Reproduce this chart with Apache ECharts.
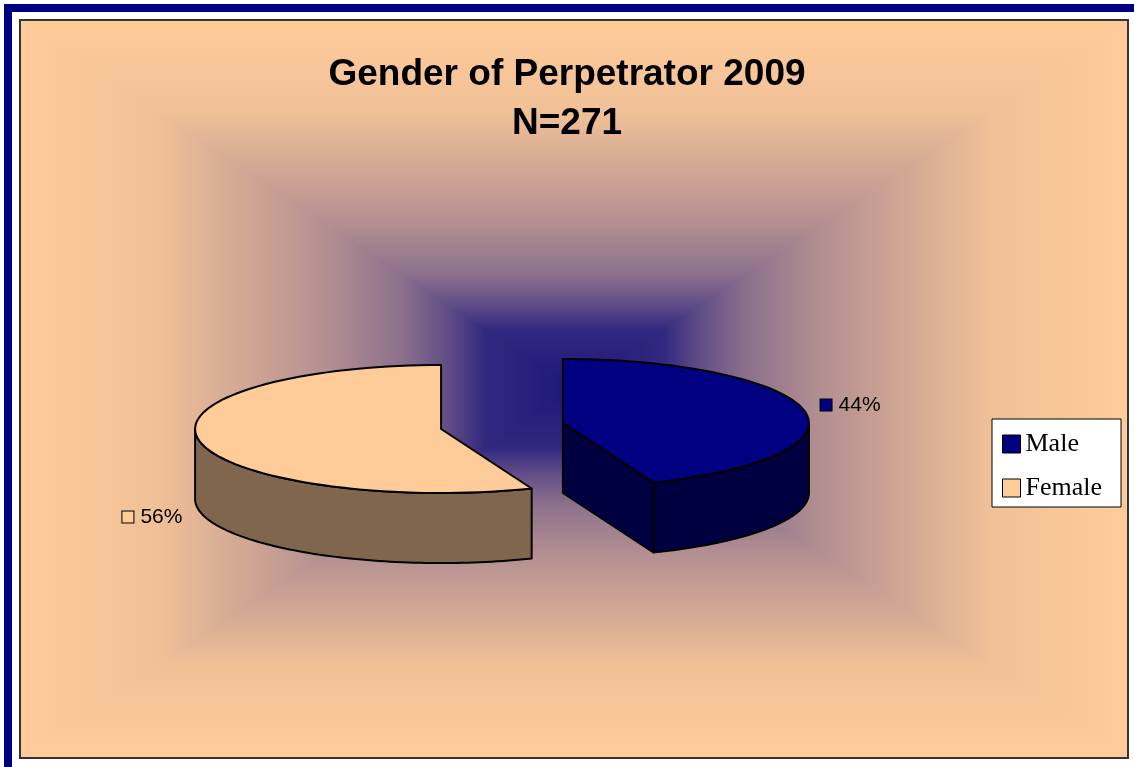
<!DOCTYPE html>
<html>
<head>
<meta charset="UTF-8">
<title>Gender of Perpetrator 2009</title>
<script src="https://cdn.jsdelivr.net/npm/echarts@6/dist/echarts.min.js"></script>
<style type="text/css">
  body { margin: 0; background: #fff; }
  #chart { width: 1134px; height: 767px; }
</style>
</head>
<body>
<div id="chart"></div>
<script type="text/javascript">
// data
var categories = ['Male', 'Female'];
var values = [44, 56];              // percent of N=271
var titleLines = ['Gender of Perpetrator 2009', 'N=271'];

// colours: top face and darker side face
var topColors = ['#000080', '#FFCC99'];
var sideColors = ['#000040', '#80664D'];

// fake 3d pie layout (pixels)
var pie = { cx: 502, cy: 426, rx: 246, ry: 64, depth: 70, explode: 62 };

// plot box with the "from centre" rectangular gradient
var box = { x0: 20, y0: 20, x1: 1128, y1: 758 };
var gradStops = [
  [0, '#FFCC99'], [0.25, 'rgb(240,192,151)'], [0.56, 'rgb(178,142,145)'],
  [0.69, 'rgb(140,112,140)'], [0.77, 'rgb(98,78,134)'], [0.84, 'rgb(50,40,128)'],
  [1, '#1c1878']
];

function stops(reverse) {
  return gradStops.map(function (s) {
    return { offset: reverse ? 1 - s[0] : s[0], color: s[1] };
  });
}

function vStops() {
  // edge -> centre -> edge
  var out = [];
  gradStops.forEach(function (s) { out.push({ offset: s[0] / 2, color: s[1] }); });
  for (var k = gradStops.length - 2; k >= 0; k--) {
    out.push({ offset: 1 - gradStops[k][0] / 2, color: gradStops[k][1] });
  }
  return out;
}

var bcx = (box.x0 + box.x1) / 2, bcy = (box.y0 + box.y1) / 2;
var background = [
  { type: 'rect', z: -10, shape: { x: 8, y: 8, width: 1300, height: 1000 },
    style: { fill: '#fff', stroke: '#000080', lineWidth: 8 } },
  { type: 'rect', z: -9, shape: { x: box.x0, y: box.y0, width: box.x1 - box.x0, height: box.y1 - box.y0 },
    style: { fill: new echarts.graphic.LinearGradient(0, 0, 0, 1, vStops()) } },
  { type: 'polygon', z: -8, shape: { points: [[box.x0, box.y0], [bcx, bcy], [box.x0, box.y1]] },
    style: { fill: new echarts.graphic.LinearGradient(0, 0, 1, 0, stops(false)) } },
  { type: 'polygon', z: -8, shape: { points: [[box.x1, box.y0], [bcx, bcy], [box.x1, box.y1]] },
    style: { fill: new echarts.graphic.LinearGradient(0, 0, 1, 0, stops(true)) } },
  { type: 'rect', z: -7, shape: { x: box.x0, y: box.y0, width: box.x1 - box.x0, height: box.y1 - box.y0 },
    style: { fill: 'none', stroke: '#333', lineWidth: 2 } }
];

function pt(cx, cy, a, dz) {
  return [cx + pie.rx * Math.cos(a), cy - pie.ry * Math.sin(a) + (dz || 0)];
}

// one custom series per slice, angles come from the values
function makeRender(i) {
  return function (params, api) {
    var total = 0, before = 0;
    for (var j = 0; j < values.length; j++) {
      total += values[j];
      if (j < i) before += values[j];
    }
    var a0 = (90 - 360 * before / total) * Math.PI / 180;
    var a1 = (90 - 360 * (before + api.value(0)) / total) * Math.PI / 180;
    var am = (a0 + a1) / 2;
    var cx = pie.cx + pie.explode * Math.cos(am);
    var cy = pie.cy - pie.explode * pie.ry / pie.rx * Math.sin(am);
    var N = 80;
    var line = { stroke: '#000', lineWidth: 2, lineJoin: 'round' };
    var children = [];

    // outer wall, only the part facing the viewer
    var lo = Math.max(a1, -Math.PI), hi = Math.min(a0, 0);
    if (hi > lo) {
      var wall = [];
      for (var k = 0; k <= N; k++) wall.push(pt(cx, cy, lo + (hi - lo) * k / N, 0));
      for (var k2 = N; k2 >= 0; k2--) wall.push(pt(cx, cy, lo + (hi - lo) * k2 / N, pie.depth));
      children.push({ type: 'polygon', shape: { points: wall },
        style: Object.assign({ fill: sideColors[i] }, line) });
    }

    // radial cut faces
    [[a0, a0 + Math.PI / 2], [a1, a1 - Math.PI / 2]].forEach(function (e) {
      if (Math.sin(e[1]) < -1e-6) {
        children.push({ type: 'polygon',
          shape: { points: [[cx, cy], pt(cx, cy, e[0], 0), pt(cx, cy, e[0], pie.depth), [cx, cy + pie.depth]] },
          style: Object.assign({ fill: sideColors[i] }, line) });
      }
    });

    // top face
    var top = [[cx, cy]];
    for (var m = 0; m <= N; m++) top.push(pt(cx, cy, a0 + (a1 - a0) * m / N, 0));
    children.push({ type: 'polygon', shape: { points: top },
      style: Object.assign({ fill: topColors[i] }, line) });

    // data label with legend key
    var s = Math.sin(am), c = Math.cos(am);
    var lp = pt(cx, cy, am, s < 0 ? pie.depth + 6 : -6);
    var pct = Math.round(api.value(0) / total * 100) + '%';
    children.push({ type: 'text', x: lp[0] + (c >= 0 ? 16 : -17), y: lp[1],
      style: {
        text: '{k|}{g|}' + pct,
        fontFamily: 'Liberation Sans', fontSize: 21, fill: '#000',
        align: c >= 0 ? 'left' : 'right', verticalAlign: 'middle',
        rich: {
          k: { width: 11, height: 11, backgroundColor: topColors[i], borderColor: '#000', borderWidth: 1 },
          g: { width: 7 }
        }
      } });

    return { type: 'group', children: children };
  };
}

var dom = document.getElementById('chart');
var myChart = echarts.init(dom);

var series = categories.map(function (name, i) {
  return {
    type: 'custom',
    name: name,
    coordinateSystem: 'none',
    itemStyle: { color: topColors[i] },
    renderItem: makeRender(i),
    data: [[values[i]]]
  };
});

var option = {
  backgroundColor: '#fff',
  animation: false,
  graphic: { elements: background },
  title: {
    text: titleLines.join('\n'),
    left: 'center',
    top: 50,
    padding: 0,
    textStyle: { fontFamily: 'Liberation Sans', fontSize: 37, fontWeight: 'bold', lineHeight: 49, color: '#000' }
  },
  legend: {
    data: categories,
    orient: 'vertical',
    left: 992,
    top: 419,
    icon: 'rect',
    itemWidth: 18,
    itemHeight: 18,
    itemGap: 18,
    padding: [12, 19, 6, 10],
    backgroundColor: '#fff',
    borderColor: '#000',
    borderWidth: 1,
    borderRadius: 0,
    itemStyle: { borderColor: '#000', borderWidth: 1 },
    textStyle: { fontFamily: 'Liberation Serif', fontSize: 26, color: '#000' }
  },
  series: series
};

if (option && typeof option === "object") {
  myChart.setOption(option, true);
}
</script>
</body>
</html>
